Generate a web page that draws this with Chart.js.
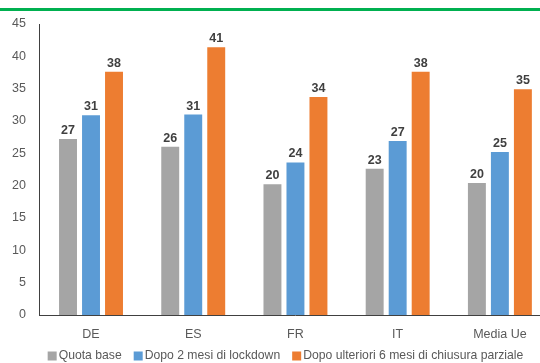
<!DOCTYPE html>
<html>
<head>
<meta charset="utf-8">
<script src="https://cdn.jsdelivr.net/npm/chart.js@4"></script>
<style>
  html, body { margin:0; padding:0; background:#fff; overflow:hidden; }
  #wrap { position:relative; width:575px; height:363px; }
  #topline { position:absolute; left:0; top:8px; width:540px; height:3px; background:#00b050; }
</style>
</head>
<body>
<div id="wrap">
  <div id="topline"></div>
  <canvas id="c"></canvas>
</div>
<script>
// categories + series
const countries = ['DE', 'ES', 'FR', 'IT', 'Media Ue'];
const quotaBase = [27.2, 26.0, 20.2, 22.6, 20.4];
const dopo2Mesi = [30.9, 31.0, 23.6, 26.9, 25.2];
const dopo6Mesi = [37.6, 41.4, 33.7, 37.6, 34.9];
const seriesNames = ['Quota base', 'Dopo 2 mesi di lockdown', 'Dopo ulteriori 6 mesi di chiusura parziale'];
const colors = ['#a5a5a5', '#5b9bd5', '#ed7d31'];

const FONT = '"Liberation Sans", Arial, sans-serif';

// value labels on top of each bar
const barLabels = {
  id: 'barLabels',
  afterDatasetsDraw(chart) {
    const ctx = chart.ctx;
    ctx.save();
    ctx.font = 'bold 12.5px ' + FONT;
    ctx.fillStyle = '#404040';
    ctx.textAlign = 'center';
    ctx.textBaseline = 'alphabetic';
    chart.data.datasets.forEach((ds, i) => {
      chart.getDatasetMeta(i).data.forEach((bar, j) => {
        ctx.fillText(Math.round(ds.data[j]), bar.x, bar.y - 5);
      });
    });
    ctx.restore();
  }
};

// legend drawn by hand, centred under the (uncropped) chart
const bottomLegend = {
  id: 'bottomLegend',
  afterDraw(chart) {
    const ctx = chart.ctx;
    ctx.save();
    ctx.font = '12.2px ' + FONT;
    ctx.textBaseline = 'middle';
    const box = 9, gap = 2, itemGap = 12, cy = 356, cx = 285.5;
    const widths = seriesNames.map(s => ctx.measureText(s).width);
    const total = widths.reduce((a, w) => a + box + gap + w, 0) + itemGap * (seriesNames.length - 1);
    let x = cx - total / 2;
    seriesNames.forEach((s, i) => {
      ctx.fillStyle = colors[i];
      ctx.fillRect(x, cy - box / 2, box, box);
      ctx.fillStyle = '#595959';
      ctx.fillText(s, x + box + gap, cy);
      x += box + gap + widths[i] + itemGap;
    });
    ctx.restore();
  }
};

new Chart(document.getElementById('c'), {
  type: 'bar',
  data: {
    labels: countries,
    datasets: [quotaBase, dopo2Mesi, dopo6Mesi].map((d, i) => ({
      label: seriesNames[i],
      data: d,
      backgroundColor: colors[i],
      borderWidth: 0,
      barPercentage: 0.78,
      categoryPercentage: 0.675
    }))
  },
  options: {
    responsive: true,
    maintainAspectRatio: false,
    animation: false,
    layout: { padding: { top: 24, left: -2, right: 24, bottom: 9 } },
    plugins: {
      legend: { display: false },
      tooltip: { enabled: false }
    },
    scales: {
      x: {
        grid: { display: false, drawTicks: false },
        border: { color: '#404040', width: 1 },
        ticks: { color: '#595959', padding: 12, font: { family: FONT, size: 12.5 } }
      },
      y: {
        min: 0, max: 45,
        grid: { display: false, drawTicks: false },
        border: { color: '#404040', width: 1 },
        ticks: { stepSize: 5, color: '#595959', padding: 14, font: { family: FONT, size: 12.5 } }
      }
    }
  },
  plugins: [barLabels, bottomLegend]
});
</script>
</body>
</html>
